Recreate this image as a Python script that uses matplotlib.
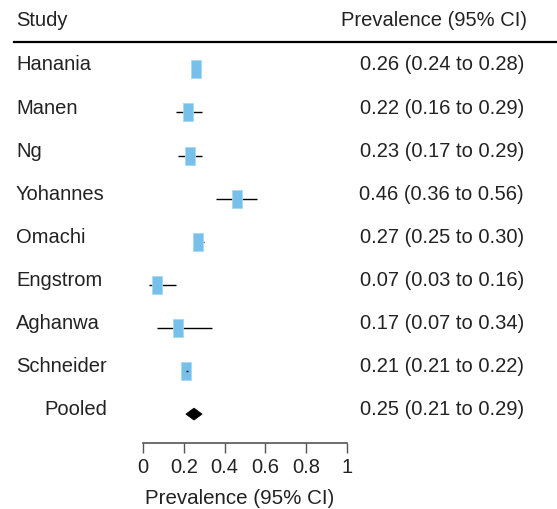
import matplotlib
matplotlib.use("Agg")
import matplotlib.pyplot as plt
from matplotlib.patches import Rectangle, Polygon
import matplotlib.transforms as mtransforms

plt.rcParams['font.family'] = ['Liberation Sans', 'DejaVu Sans']

studies = ["Hanania", "Manen", "Ng", "Yohannes", "Omachi", "Engstrom", "Aghanwa", "Schneider"]
est = [0.26, 0.22, 0.23, 0.46, 0.27, 0.07, 0.17, 0.21]
lo = [0.24, 0.16, 0.17, 0.36, 0.25, 0.03, 0.07, 0.21]
hi = [0.28, 0.29, 0.29, 0.56, 0.30, 0.16, 0.34, 0.22]
pooled_label = "Pooled"
pooled = (0.25, 0.21, 0.29)
xticks = [0, 0.2, 0.4, 0.6, 0.8, 1]
xticklabels = ["0", "0.2", "0.4", "0.6", "0.8", "1"]

W, H = 557, 509
fig = plt.figure(figsize=(W/100, H/100), dpi=100)
fig.patch.set_facecolor('white')

def fx(px):
    return px / W
def fy(py):
    return 1 - py / H

row0 = 69.3
step = 43.1
ax_top, ax_bot = 45, 443
ax_left, ax_right = 143, 347
ax = fig.add_axes([fx(ax_left), fy(ax_bot), (ax_right - ax_left)/W, (ax_bot - ax_top)/H])
ax.set_xlim(0, 1)
ax.set_ylim((ax_bot - row0)/step, (ax_top - row0)/step)
for s in ['top', 'right', 'left']:
    ax.spines[s].set_visible(False)
ax.spines['bottom'].set_color('#555555')
ax.spines['bottom'].set_linewidth(1.2)
ax.set_yticks([])
ax.set_xticks(xticks)
ax.set_xticklabels(xticklabels, fontsize=14.5, color='#222222')
ax.tick_params(axis='x', length=7, width=1, color='#555555', pad=4)
ax.set_xlabel("Prevalence (95% CI)", fontsize=14.8, color='#222222', labelpad=9)
ax.xaxis.set_label_coords(0.475, -0.115)
ax.patch.set_alpha(0)

txt_color = '#222222'
fs = 14.5
bw = 10 / (ax_right - ax_left)
bh = 18 / step
trans = mtransforms.blended_transform_factory(fig.transFigure, ax.transData)

for i, (name, e, l, h) in enumerate(zip(studies, est, lo, hi)):
    narrow = (h - l) < bw / 2
    ax.plot([l, h], [i, i], color='black', lw=1, zorder=3 if narrow else 1,
            solid_capstyle='butt')
    ax.add_patch(Rectangle((e - bw/2, i - bh/2), bw, bh, facecolor='#77C0EA',
                           edgecolor='#A8D8F2', lw=0.6, zorder=2))
    fig.text(fx(16), 0, name, transform=trans, fontsize=fs, color=txt_color,
             ha='left', va='center').set_y(i - 0.1)
    fig.text(fx(524), 0, f"{e:.2f} ({l:.2f} to {h:.2f})", transform=trans,
             fontsize=fs, color=txt_color, ha='right', va='center').set_y(i - 0.1)

n = len(studies)
pe, pl, ph = pooled
dh = 6 / step
ax.add_patch(Polygon([[pl, n], [pe, n - dh], [ph, n], [pe, n + dh]], closed=True,
                     facecolor='black', edgecolor='black', lw=0.5, zorder=3))
fig.text(fx(44), 0, pooled_label, transform=trans, fontsize=fs, color=txt_color,
         ha='left', va='center').set_y(n - 0.1)
fig.text(fx(524), 0, f"{pe:.2f} ({pl:.2f} to {ph:.2f})", transform=trans,
         fontsize=fs, color=txt_color, ha='right', va='center').set_y(n - 0.1)

# header
fig.text(fx(16), fy(20), "Study", fontsize=fs, color=txt_color, ha='left', va='center')
fig.text(fx(527), fy(20), "Prevalence (95% CI)", fontsize=fs, color=txt_color, ha='right', va='center')
fig.add_artist(plt.Line2D([fx(14), fx(557)], [fy(42), fy(42)], color='black', lw=1.6,
                          transform=fig.transFigure))

fig.savefig("out.png", dpi=100, facecolor='white')
